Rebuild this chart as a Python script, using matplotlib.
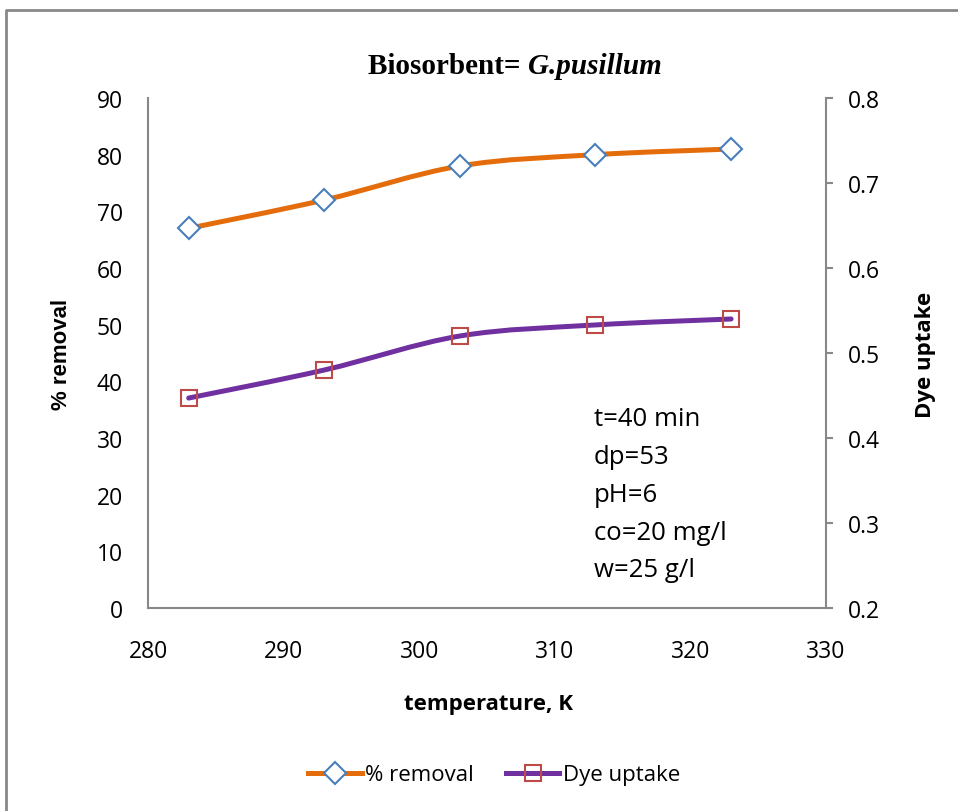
import numpy as np
import matplotlib.pyplot as plt
from matplotlib.path import Path
from matplotlib.patches import PathPatch
from matplotlib.lines import Line2D

# data
temperature = [283, 293, 303, 313, 323]
removal = [67, 72, 78, 80, 81]
dye_uptake = [0.447, 0.48, 0.52, 0.533, 0.54]

conditions = ['t=40 min', 'dp=53', 'pH=6', 'co=20 mg/l', 'w=25 g/l']

orange = '#E46C0A'
purple = '#7030A0'
blue = '#4A7EBB'
red = '#BE4B48'
gray = '#888888'

body = 'Open Sans'


def smooth_path(x, y):
    # Excel style smoothed line as cubic bezier segments
    x = np.asarray(x, float)
    y = np.asarray(y, float)
    n = len(x)
    verts = [(x[0], y[0])]
    codes = [Path.MOVETO]
    for i in range(n - 1):
        p0 = i - 1 if i > 0 else i
        p3 = i + 2 if i + 2 < n else i + 1
        c1 = (x[i] + (x[i + 1] - x[p0]) / 6, y[i] + (y[i + 1] - y[p0]) / 6)
        c2 = (x[i + 1] - (x[p3] - x[i]) / 6, y[i + 1] - (y[p3] - y[i]) / 6)
        verts += [c1, c2, (x[i + 1], y[i + 1])]
        codes += [Path.CURVE4] * 3
    return Path(verts, codes)


fig = plt.figure(figsize=(9.58, 8.12), dpi=100)
ax = fig.add_axes([148 / 958, 1 - 609 / 812, (826 - 148) / 958, (609 - 99) / 812])
ax2 = ax.twinx()

ax.add_patch(PathPatch(smooth_path(temperature, removal), fill=False,
                       edgecolor=orange, lw=3.6, capstyle='round', zorder=2))
ax.plot(temperature, removal, ls='none', marker='D', ms=11, mfc='white',
        mec=blue, mew=1.5, zorder=3)

ax2.add_patch(PathPatch(smooth_path(temperature, dye_uptake), fill=False,
                        edgecolor=purple, lw=3.6, capstyle='round', zorder=2))
ax2.plot(temperature, dye_uptake, ls='none', marker='s', ms=12, mfc='none',
         mec=red, mew=1.5, zorder=3)

ax.set_xlim(280, 330)
ax.set_ylim(0, 90)
ax2.set_ylim(0.2, 0.8)
ax.set_xticks(range(280, 331, 10))
ax.set_yticks(range(0, 91, 10))
ax2.set_yticks([0.2, 0.3, 0.4, 0.5, 0.6, 0.7, 0.8])
ax2.set_yticklabels(['0.2', '0.3', '0.4', '0.5', '0.6', '0.7', '0.8'])

for a in (ax, ax2):
    for s in a.spines.values():
        s.set_visible(False)
ax.spines['left'].set_visible(True)
ax.spines['bottom'].set_visible(True)
ax2.spines['right'].set_visible(True)
for s in (ax.spines['left'], ax.spines['bottom'], ax2.spines['right']):
    s.set_color(gray)
    s.set_linewidth(1.5)

ax.tick_params(axis='x', length=0, pad=22, labelsize=16.5)
ax.tick_params(axis='y', length=0, pad=18, labelsize=16.5)
ax2.tick_params(axis='y', length=5, width=1.5, color=gray, direction='out',
                pad=11, labelsize=16.5)
for lab in ax.get_xticklabels() + ax.get_yticklabels() + ax2.get_yticklabels():
    lab.set_fontfamily(body)

fig.text(528 / 958, 1 - 66 / 812, 'Biosorbent= ', ha='right', va='center',
         fontsize=21, fontweight='bold', family='Liberation Serif')
fig.text(528 / 958, 1 - 66 / 812, 'G.pusillum', ha='left', va='center',
         fontsize=21, fontweight='bold', style='italic', family='Liberation Serif')

fig.text(62 / 958, 1 - 354 / 812, '% removal', rotation=90, ha='center',
         va='center', fontsize=16, fontweight='bold', family='Liberation Sans')
fig.text(925 / 958, 1 - 355 / 812, 'Dye uptake', rotation=90, ha='center',
         va='center', fontsize=16, fontweight='bold', family=body)
fig.text(488 / 958, 1 - 705 / 812, 'temperature, K', ha='center', va='center',
         fontsize=16, fontweight='bold', family=body)

for i, t in enumerate(conditions):
    fig.text(594 / 958, 1 - (420 + 37.7 * i) / 812, t, ha='left', va='center',
             fontsize=18.5, family=body)

handles = [Line2D([], [], color=orange, lw=3.6, marker='D', ms=11, mfc='white',
                  mec=blue, mew=1.5),
           Line2D([], [], color=purple, lw=3.6, marker='s', ms=12, mfc='none',
                  mec=red, mew=1.5)]
fig.legend(handles, ['% removal', 'Dye uptake'], loc='center',
           bbox_to_anchor=(494 / 958, 1 - 776 / 812), ncol=2, frameon=False,
           prop={'family': body, 'size': 16}, handlelength=2.4,
           handletextpad=0.15, columnspacing=1.45, borderpad=0)

# outer chart border (cut off on right and bottom)
fig.add_artist(Line2D([6 / 958, 6 / 958, 1], [0, 1 - 11 / 812, 1 - 11 / 812],
                      transform=fig.transFigure, color=gray, lw=2))

fig.savefig('out.png', dpi=100)
